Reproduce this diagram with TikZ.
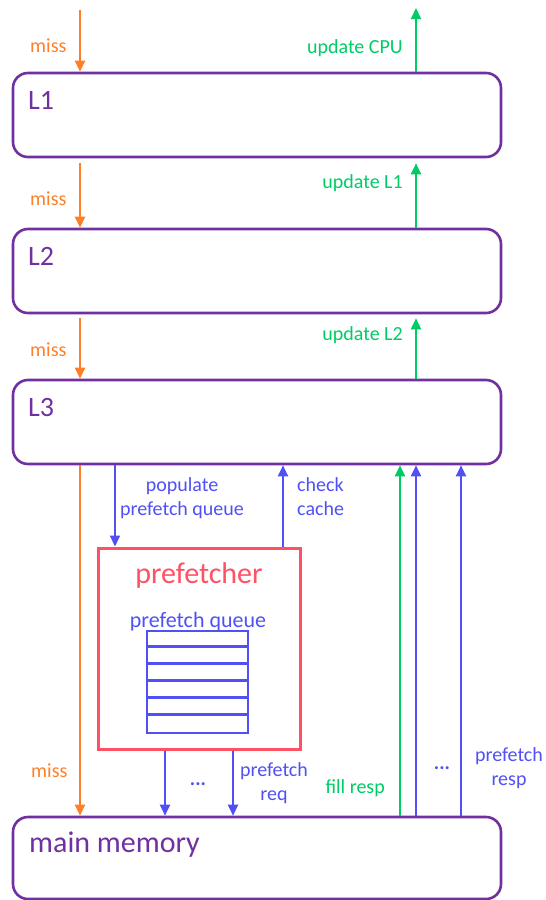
\documentclass[tikz,border=0pt]{standalone}
\usepackage{fontspec}
\setmainfont{Carlito}
\usetikzlibrary{arrows.meta}
\definecolor{cpurple}{HTML}{7030A0}
\definecolor{corange}{HTML}{FF7F27}
\definecolor{cgreen}{HTML}{00CC66}
\definecolor{cblue}{HTML}{5050F5}
\definecolor{cred}{HTML}{FF5064}
\tikzset{
  cachebox/.style={draw=cpurple, line width=2.6pt, rounded corners=15pt, minimum width=488pt, inner sep=0pt},
  boxlabel/.style={text=cpurple, anchor=base west, inner sep=0pt, font=\fontsize{28}{32}\selectfont},
  lbl/.style={inner sep=0pt, font=\fontsize{20}{24}\selectfont},
  arr/.style={line width=2pt, -{Triangle[length=11pt,width=10pt]}},
  oarr/.style={arr, draw=corange, fill=corange},
  garr/.style={arr, draw=cgreen, fill=cgreen},
  barr/.style={arr, draw=cblue, fill=cblue},
}
\begin{document}
\begin{tikzpicture}[x=1pt, y=-1pt]
\useasboundingbox (0,0) rectangle (546,900);
% cache boxes
\node[cachebox, minimum height=84pt] (L1) at (257,115) {};
\node[cachebox, minimum height=84pt] (L2) at (257,271) {};
\node[cachebox, minimum height=84pt] (L3) at (257,422) {};
\node[cachebox, minimum height=82pt] (mem) at (257,858) {};
\node[boxlabel] (L1t) at (28,109) {L1};
\node[boxlabel] (L2t) at (28,265) {L2};
\node[boxlabel] (L3t) at (28,416) {L3};
\node[boxlabel, font=\fontsize{30}{34}\selectfont] (memt) at (29,852) {main memory};
% prefetcher
\node[draw=cred, line width=3pt, minimum width=202pt, minimum height=201pt, inner sep=0pt] (pf) at (199,648.5) {};
\node[text=cred, anchor=base, inner sep=0pt, font=\fontsize{30}{34}\selectfont] (pft) at (199,583) {prefetcher};
\node[text=cblue, anchor=base, inner sep=0pt, font=\fontsize{22}{26}\selectfont] (pqt) at (198,627) {prefetch queue};
\node[draw=cblue, line width=2.6pt, minimum width=101pt, minimum height=102pt, inner sep=0pt] (pq) at (197.5,682) {};
\foreach \k in {1,...,5} {
  \draw[cblue, line width=2.6pt] ([yshift=-17*\k pt]pq.north west) -- ([yshift=-17*\k pt]pq.north east);
}
% x positions
\coordinate (ox) at (80,0);
\coordinate (gx) at (416,0);
\coordinate (topin) at (80,10);
\coordinate (topout) at (416,8);
\coordinate (popx) at (115,0);
\coordinate (chkx) at (283,0);
\coordinate (rq1) at (165,0);
\coordinate (rq2) at (233,0);
\coordinate (fx) at (400,0);
\coordinate (rp1) at (416,0);
\coordinate (rp2) at (461,0);
% orange miss arrows
\draw[oarr] (topin) -- (L1.north -| ox);
\draw[oarr, shorten <=5pt] (L1.south -| ox) -- (L2.north -| ox);
\draw[oarr, shorten <=4pt] (L2.south -| ox) -- (L3.north -| ox);
\draw[oarr] (L3.south -| ox) -- (mem.north -| ox);
% green update arrows
\draw[garr] (L1.north -| gx) -- (topout);
\draw[garr, shorten >=5pt] (L2.north -| gx) -- (L1.south -| gx);
\draw[garr, shorten >=4pt] (L3.north -| gx) -- (L2.south -| gx);
% prefetcher arrows
\draw[barr] (L3.south -| popx) -- (pf.north -| popx);
\draw[barr] (pf.north -| chkx) -- (L3.south -| chkx);
\draw[barr] (pf.south -| rq1) -- (mem.north -| rq1);
\draw[barr] (pf.south -| rq2) -- (mem.north -| rq2);
% responses
\draw[garr] (mem.north -| fx) -- (L3.south -| fx);
\draw[barr] (mem.north -| rp1) -- (L3.south -| rp1);
\draw[barr] (mem.north -| rp2) -- (L3.south -| rp2);
% labels
\node[lbl, text=corange, anchor=base west] (m1) at (30,52) {miss};
\node[lbl, text=corange, anchor=base west] (m2) at (30,205) {miss};
\node[lbl, text=corange, anchor=base west] (m3) at (30,356) {miss};
\node[lbl, text=corange, anchor=base west] (m4) at (31,777) {miss};
\node[lbl, text=cgreen, anchor=base east] (u1) at (403,53) {update CPU};
\node[lbl, text=cgreen, anchor=base east] (u2) at (403,188) {update L1};
\node[lbl, text=cgreen, anchor=base east] (u3) at (403,340) {update L2};
\node[lbl, text=cblue, anchor=base, align=center] (popt) at (182,515) {populate\\prefetch queue};
\node[lbl, text=cblue, anchor=base west, align=left] (chkt) at (297,515) {check\\cache};
\node[lbl, text=cblue, anchor=base, font=\bfseries\fontsize{20}{24}\selectfont] (d1) at (198,785) {...};
\node[lbl, text=cblue, anchor=base, align=center] (reqt) at (274,800) {prefetch\\req};
\node[lbl, text=cgreen, anchor=base east] (fillt) at (385,793) {fill resp};
\node[lbl, text=cblue, anchor=base, font=\bfseries\fontsize{20}{24}\selectfont] (d2) at (442,769) {...};
\node[lbl, text=cblue, anchor=base, align=center] (respt) at (509,785) {prefetch\\resp};
\end{tikzpicture}
\end{document}
